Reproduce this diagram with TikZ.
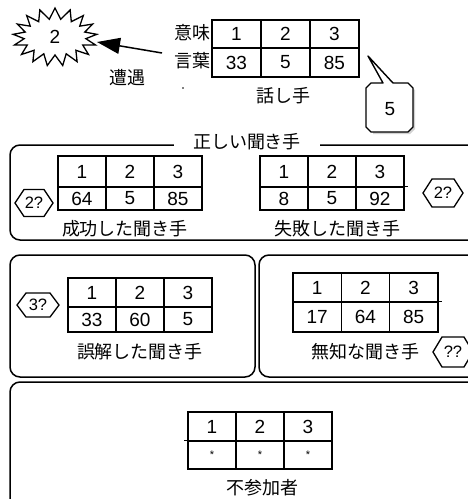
\documentclass[tikz,border=0pt]{standalone}
\usepackage{fontspec}
\setmainfont{Liberation Sans}
\newfontfamily\jp{Noto Sans CJK JP}
\usetikzlibrary{shapes.symbols,arrows.meta}
\tikzset{
  x=1pt,y=-1pt,
  every node/.style={font=\fontsize{19}{19}\selectfont, inner sep=0pt},
  cell/.style={draw, line width=1.5pt, inner sep=0pt},
  jplabel/.style={font=\fontsize{18}{18}\selectfont\jp},
  grp/.style={draw, line width=1.5pt, rounded corners=10pt},
  hexline/.style={draw, line width=1.3pt},
  hexfont/.style={font=\fontsize{16.5}{16.5}\selectfont},
}
\newcommand\stt{\fontsize{11}{11}\selectfont\raisebox{-4pt}{*}}
% name, x, y, colwidth, h1, h2, entries
\newcommand\mktbl[7]{%
  \foreach \t [count=\i from 0] in {#7} {%
    \pgfmathtruncatemacro\cc{mod(\i,3)}%
    \pgfmathtruncatemacro\rr{div(\i,3)}%
    \pgfmathsetmacro\xx{#2+(\cc+0.5)*#4}%
    \pgfmathsetmacro\yy{\rr==0 ? #3+#5/2 : #3+#5+#6/2}%
    \pgfmathsetmacro\hh{\rr==0 ? #5 : #6}%
    \node[cell, minimum width=#4pt, minimum height=\hh pt] (#1-\rr-\cc) at (\xx,\yy) {\t};%
  }%
}
% name, x, y, w, h, text
\newcommand\hexg[6]{%
  \node[hexfont] (#1) at (#2,#3) {#6};%
  \pgfmathsetmacro\hw{#4/2}\pgfmathsetmacro\hh{#5/2}\pgfmathsetmacro\hi{#4/2-9}%
  \draw[hexline] ([shift={(-\hw,0)}]#1.center) -- ([shift={(-\hi,-\hh)}]#1.center)
    -- ([shift={(\hi,-\hh)}]#1.center) -- ([shift={(\hw,0)}]#1.center)
    -- ([shift={(\hi,\hh)}]#1.center) -- ([shift={(-\hi,\hh)}]#1.center) -- cycle;%
}
\begin{document}
\begin{tikzpicture}
\useasboundingbox (0,0) rectangle (467,499);
% speaker
\mktbl{sp}{212}{20}{49}{28}{29}{1,2,3,33,5,85}
\node[jplabel] (imi) at (192,33) {意味};
\node[jplabel] (kotoba) at (192,61) {言葉};
\node[jplabel] (hanashite) at (283,96) {話し手};
\fill (183,88) circle (0.8);
% starburst and arrow
\node[draw, line width=1.3pt, starburst, starburst points=17, starburst point height=11pt,
      random starburst=0, minimum width=84pt, minimum height=58pt] (sb) at (55,37) {2};
\coordinate (atail) at (162,53);
\draw[line width=1.5pt, -{Triangle[length=23pt,width=16pt]}] (atail) -- (97,42);
\node[jplabel] (sogu) at (127,78) {遭遇};
% callout
\fill[gray!35] (373,85) -- (410,85) -- (415,90) -- (415,129) -- (410,134) -- (373,134) -- cycle;
\draw[line width=1.4pt, fill=white, line join=round]
  (371,83) -- (383,83) -- (368,56) -- (393,83) -- (408,83) -- (413,88) -- (413,127)
  -- (408,132) -- (371,132) -- (366,127) -- (366,88) -- cycle;
\node (five) at (390,109) {5};
% group: correct listeners
\draw[grp] (10,145) rectangle (490,240);
\node[jplabel, fill=white, inner xsep=19pt, inner ysep=1pt] (tadashii) at (247,142) {正しい聞き手};
\mktbl{ok}{58}{156}{48}{31}{23}{1,2,3,64,5,85}
\mktbl{ng}{260}{156}{48}{31}{23}{1,2,3,8,5,92}
\draw[line width=1.5pt] (ng-1-2.north east) -- ++(3,0);
\node[jplabel] (seiko) at (125,229) {成功した聞き手};
\node[jplabel] (shippai) at (337,229) {失敗した聞き手};
\hexg{h1}{34}{203}{38}{27}{2?}
\hexg{h2}{443}{193}{40}{28}{2?}
% misunderstanding
\draw[grp] (10,255) rectangle (255,377);
\mktbl{mis}{68}{278}{48}{29}{25}{1,2,3,33,60,5}
\node[jplabel] (gokai) at (140,352) {誤解した聞き手};
\hexg{h3}{38}{305}{42}{24}{3?}
% ignorant
\draw[grp] (259,255) rectangle (490,377);
\mktbl{ign}{293}{273}{48.3}{29}{30}{1,2,3,17,64,85}
\draw[line width=1.5pt] (ign-1-2.north east) -- ++(3,0);
\node[jplabel] (muchi) at (365,352) {無知な聞き手};
\hexg{h4}{453}{352}{40}{30}{??}
% non-participant
\draw[grp] (10,382) rectangle (490,520);
\mktbl{non}{188}{412}{48}{29}{28}{1,2,3,\stt,\stt,\stt}
\draw[line width=1.5pt] (non-1-0.north west) -- ++(-3,0);
\node[jplabel] (fusanka) at (262,488) {不参加者};
\end{tikzpicture}
\end{document}
